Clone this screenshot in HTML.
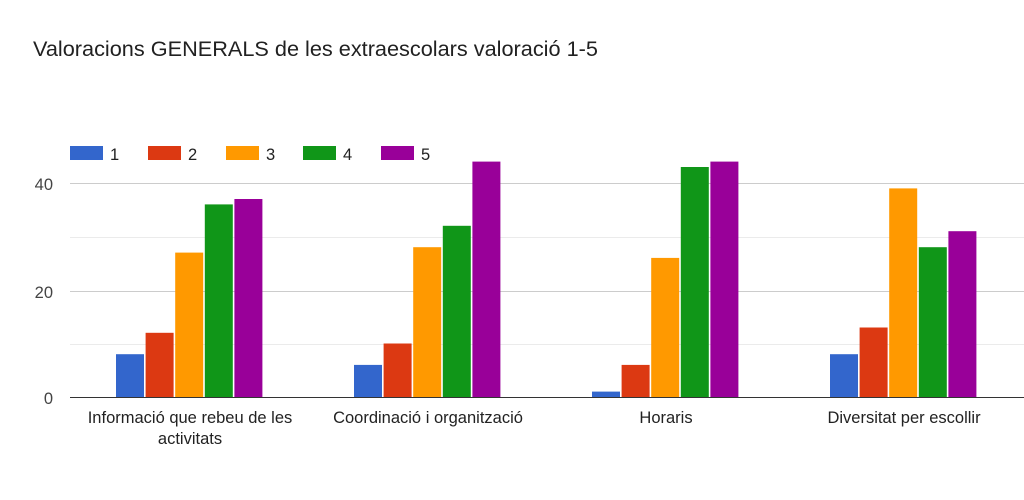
<!DOCTYPE html>
<html><head><meta charset="utf-8"><style>body{margin:0;background:#fff}svg{display:block}</style></head>
<body>
<svg width="1024" height="500" xmlns="http://www.w3.org/2000/svg" font-family="Liberation Sans, Arial, sans-serif">
<rect width="1024" height="500" fill="#fff"/>
<text x="33" y="56" font-size="21.7" fill="#212121">Valoracions GENERALS de les extraescolars valoració 1-5</text>
<g font-size="16.5" fill="#222">
<rect x="70" y="146" width="33" height="14" fill="#3366cc"/><text x="110" y="160">1</text>
<rect x="148" y="146" width="33" height="14" fill="#dc3912"/><text x="188" y="160">2</text>
<rect x="226" y="146" width="33" height="14" fill="#ff9900"/><text x="266" y="160">3</text>
<rect x="303" y="146" width="33" height="14" fill="#109618"/><text x="343" y="160">4</text>
<rect x="381" y="146" width="33" height="14" fill="#990099"/><text x="421" y="160">5</text>
</g>
<g stroke="#ccc" stroke-width="1">
<line x1="70" x2="1024" y1="183.5" y2="183.5"/>
<line x1="70" x2="1024" y1="291.5" y2="291.5"/>
</g>
<g stroke="#ebebeb" stroke-width="1">
<line x1="70" x2="1024" y1="237.5" y2="237.5"/>
<line x1="70" x2="1024" y1="344.5" y2="344.5"/>
</g>
<g font-size="16.5" fill="#444" text-anchor="end">
<text x="53" y="190">40</text><text x="53" y="298">20</text><text x="53" y="404">0</text>
</g>
<g>
<rect x="116" y="354.2" width="28" height="42.8" fill="#3366cc"/>
<rect x="145.6" y="332.8" width="28" height="64.2" fill="#dc3912"/>
<rect x="175.2" y="252.6" width="28" height="144.4" fill="#ff9900"/>
<rect x="204.8" y="204.4" width="28" height="192.6" fill="#109618"/>
<rect x="234.4" y="199" width="28" height="198" fill="#990099"/>
<rect x="354" y="364.9" width="28" height="32.1" fill="#3366cc"/>
<rect x="383.6" y="343.5" width="28" height="53.5" fill="#dc3912"/>
<rect x="413.2" y="247.2" width="28" height="149.8" fill="#ff9900"/>
<rect x="442.8" y="225.8" width="28" height="171.2" fill="#109618"/>
<rect x="472.4" y="161.6" width="28" height="235.4" fill="#990099"/>
<rect x="592" y="391.6" width="28" height="5.4" fill="#3366cc"/>
<rect x="621.6" y="364.9" width="28" height="32.1" fill="#dc3912"/>
<rect x="651.2" y="257.9" width="28" height="139.1" fill="#ff9900"/>
<rect x="680.8" y="167" width="28" height="230" fill="#109618"/>
<rect x="710.4" y="161.6" width="28" height="235.4" fill="#990099"/>
<rect x="830" y="354.2" width="28" height="42.8" fill="#3366cc"/>
<rect x="859.6" y="327.5" width="28" height="69.5" fill="#dc3912"/>
<rect x="889.2" y="188.4" width="28" height="208.6" fill="#ff9900"/>
<rect x="918.8" y="247.2" width="28" height="149.8" fill="#109618"/>
<rect x="948.4" y="231.2" width="28" height="165.8" fill="#990099"/>
</g>
<line x1="70" x2="1024" y1="397.5" y2="397.5" stroke="#333" stroke-width="1"/>
<g font-size="16.5" fill="#222" text-anchor="middle">
<text x="190" y="423">Informació que rebeu de les</text>
<text x="190" y="444">activitats</text>
<text x="428" y="423">Coordinació i organització</text>
<text x="666" y="423">Horaris</text>
<text x="904" y="423">Diversitat per escollir</text>
</g>
</svg>
</body></html>
